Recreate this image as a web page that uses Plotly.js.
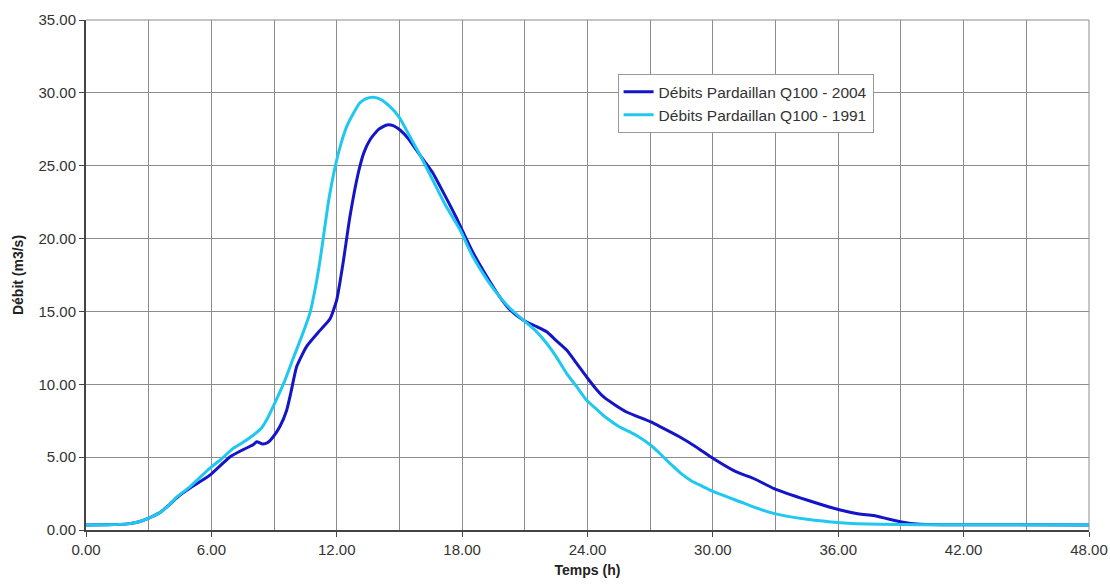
<!DOCTYPE html>
<html>
<head>
<meta charset="utf-8">
<script src="https://cdn.plot.ly/plotly-3.0.1.min.js"></script>
<style>html,body{margin:0;padding:0;background:#fff;}#chart{width:1110px;height:588px;}</style>
</head>
<body>
<div id="chart"></div>
<script>
// Débits Pardaillan Q100 - 2004 (dark blue)
const t2004 = [0, 1, 2, 2.5, 3, 3.6, 4.0, 4.34, 4.5, 5.0, 5.93, 6.9, 7.5, 8.0, 8.17, 8.45, 8.7, 8.96, 9.28, 9.6, 9.8, 10.08, 10.56, 11.2, 11.68, 12.0, 12.3, 12.63, 13.03, 13.3, 13.6, 14.0, 14.4, 14.7, 15.03, 15.4, 15.8, 16.2, 16.6, 16.94, 17.7, 18.06, 18.5, 19.18, 19.8, 20.3, 20.93, 21.5, 22.05, 22.5, 23.0, 23.5, 23.96, 24.4, 24.76, 25.3, 25.87, 27.0, 27.47, 28.4, 29.2, 30.0, 31.1, 32.0, 32.9, 34.5, 36.1, 37.0, 37.7, 38.4, 38.96, 39.9, 41, 48];
const q2004 = [0.35, 0.36, 0.42, 0.55, 0.82, 1.26, 1.75, 2.2, 2.4, 2.9, 3.77, 5.03, 5.5, 5.85, 6.06, 5.9, 6.0, 6.4, 7.1, 8.2, 9.4, 11.2, 12.6, 13.7, 14.5, 15.8, 18.3, 21.5, 24.5, 25.9, 26.8, 27.5, 27.8, 27.75, 27.45, 26.9, 26.1, 25.3, 24.5, 23.6, 21.5, 20.4, 19.1, 17.4, 16.0, 15.1, 14.4, 14.0, 13.6, 13.0, 12.35, 11.4, 10.5, 9.7, 9.15, 8.6, 8.1, 7.43, 7.1, 6.4, 5.7, 4.92, 4.0, 3.5, 2.86, 2.06, 1.37, 1.1, 1.0, 0.75, 0.57, 0.39, 0.36, 0.35];

// Débits Pardaillan Q100 - 1991 (light blue)
const t1991 = [0, 1, 2, 2.5, 3, 3.6, 4.0, 4.34, 5.0, 5.93, 6.5, 7.04, 7.5, 8.0, 8.4, 8.7, 9.0, 9.5, 9.92, 10.3, 10.72, 11.0, 11.2, 11.36, 11.6, 11.92, 12.2, 12.48, 12.8, 13.1, 13.4, 13.75, 14.1, 14.55, 15.0, 15.5, 16.0, 16.6, 17.2, 17.9, 18.5, 19.18, 19.8, 20.3, 20.93, 21.5, 22.05, 22.5, 23.0, 23.5, 23.96, 24.5, 24.9, 25.5, 26.0, 26.5, 27.0, 27.5, 28.0, 28.5, 29.0, 29.5, 30.0, 31.3, 32.0, 32.9, 34.5, 36.1, 38.0, 40, 48];
const q1991 = [0.35, 0.36, 0.42, 0.55, 0.82, 1.26, 1.75, 2.26, 3.0, 4.25, 4.9, 5.6, 6.0, 6.5, 7.0, 7.7, 8.6, 10.2, 11.8, 13.2, 14.9, 16.8, 18.5, 20.1, 22.5, 24.9, 26.5, 27.7, 28.6, 29.3, 29.6, 29.7, 29.55, 29.05, 28.3, 27.0, 25.7, 24.0, 22.3, 20.6, 18.8, 17.2, 16.0, 15.2, 14.4, 13.7, 12.8, 11.9, 10.75, 9.8, 8.9, 8.2, 7.7, 7.1, 6.75, 6.35, 5.85, 5.2, 4.5, 3.85, 3.35, 3.0, 2.65, 1.94, 1.55, 1.14, 0.73, 0.5, 0.39, 0.36, 0.35];

const seriesNames = ['Débits Pardaillan Q100 - 2004', 'Débits Pardaillan Q100 - 1991'];

const font = 'Liberation Sans, Arial, sans-serif';
const gridColor = '#8c8c8c';

const traces = [
  {x: t2004, y: q2004, name: seriesNames[0], type: 'scatter', mode: 'lines',
   line: {color: '#1414C8', width: 3, shape: 'spline', smoothing: 0.5}},
  {x: t1991, y: q1991, name: seriesNames[1], type: 'scatter', mode: 'lines',
   line: {color: '#20C8F0', width: 3, shape: 'spline', smoothing: 0.5}}
];

const layout = {
  width: 1110, height: 588,
  margin: {l: 86, r: 21, t: 20, b: 58},
  paper_bgcolor: '#fff', plot_bgcolor: '#fff',
  font: {family: font, size: 15, color: '#333'},
  showlegend: true,
  legend: {x: 0.530, y: 0.894, xanchor: 'left', yanchor: 'top',
           bgcolor: '#fff', bordercolor: '#999', borderwidth: 1,
           font: {family: font, size: 15.5, color: '#333'}, tracegroupgap: 0},
  xaxis: {
    range: [0, 48], dtick: 6, tick0: 0, tickformat: '.2f',
    showgrid: true, gridcolor: gridColor, gridwidth: 1,
    minor: {dtick: 3, showgrid: true, gridcolor: gridColor, gridwidth: 1},
    ticks: 'outside', ticklen: 5, tickcolor: '#444',
    showline: true, linecolor: '#444', linewidth: 2, zeroline: false,
    tickfont: {family: font, size: 15, color: '#333'},
    title: {text: '<b>Temps (h)</b>', font: {family: font, size: 14, color: '#222'}, standoff: 8}
  },
  yaxis: {
    range: [0, 35], dtick: 5, tick0: 0, tickformat: '.2f',
    showgrid: true, gridcolor: gridColor, gridwidth: 1,
    ticks: 'outside', ticklen: 5, tickcolor: '#444',
    showline: true, linecolor: '#444', linewidth: 2, zeroline: false,
    tickfont: {family: font, size: 15, color: '#333'},
    title: {text: '<b>Débit (m3/s)</b>', font: {family: font, size: 14, color: '#222'}, standoff: 12}
  },
  shapes: [
    {type: 'line', xref: 'paper', yref: 'paper', x0: 0, x1: 1, y0: 1, y1: 1, line: {color: gridColor, width: 1}},
    {type: 'line', xref: 'paper', yref: 'paper', x0: 1, x1: 1, y0: 0, y1: 1, line: {color: gridColor, width: 1}}
  ]
};

Plotly.newPlot('chart', traces, layout, {displayModeBar: false, staticPlot: true});
</script>
</body>
</html>
